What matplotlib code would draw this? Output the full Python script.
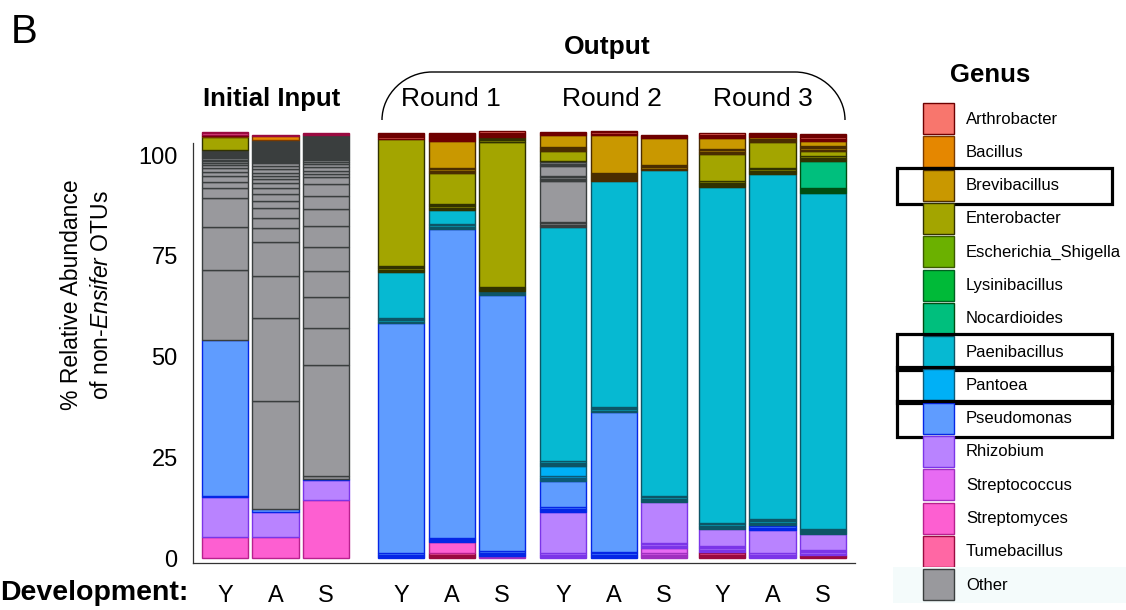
import sys
from typing import List, Tuple
import matplotlib
matplotlib.use("Agg")
import matplotlib.pyplot as plt
from matplotlib.patches import Rectangle, PathPatch
from matplotlib.path import Path

plt.rcParams['font.family'] = ['Liberation Sans', 'DejaVu Sans']
plt.rcParams['mathtext.fontset'] = 'custom'
plt.rcParams['mathtext.rm'] = 'Liberation Sans'
plt.rcParams['mathtext.it'] = 'Liberation Sans:italic'

GENERA = ["Arthrobacter", "Bacillus", "Brevibacillus", "Enterobacter",
          "Escherichia_Shigella", "Lysinibacillus", "Nocardioides", "Paenibacillus",
          "Pantoea", "Pseudomonas", "Rhizobium", "Streptococcus", "Streptomyces",
          "Tumebacillus", "Other"]
HIGHLIGHTED = ["Brevibacillus", "Paenibacillus", "Pantoea", "Pseudomonas"]

GROUPS = ["Initial Input", "Round 1", "Round 2", "Round 3"]
STAGES = ["Y", "A", "S"]

FILL = {
    "Arthrobacter": "#f8766d", "Bacillus": "#e58700", "Brevibacillus": "#c99800",
    "Enterobacter": "#a3a500", "Escherichia_Shigella": "#6bb100", "Lysinibacillus": "#00ba38",
    "Nocardioides": "#00bf7d", "Paenibacillus": "#06b9d2", "Pantoea": "#00b0f6",
    "Pseudomonas": "#5f9cff", "Rhizobium": "#b983ff", "Streptococcus": "#e76bf3",
    "Streptomyces": "#fd5fd1", "Tumebacillus": "#ff67a4", "Other": "#99999d",
}
EDGE = {
    "Arthrobacter": "#6e0000", "Bacillus": "#7a3a00", "Brevibacillus": "#4a2d00",
    "Enterobacter": "#313200", "Escherichia_Shigella": "#3a5a00", "Lysinibacillus": "#006020",
    "Nocardioides": "#004d12", "Paenibacillus": "#0d5566", "Pantoea": "#0c5a78",
    "Pseudomonas": "#0526e6", "Rhizobium": "#7b35e8", "Streptococcus": "#a030c0",
    "Streptomyces": "#b8208e", "Tumebacillus": "#9a0a40", "Other": "#3a3e3e",
}

# OTU abundances for each sample, stacked bottom to top: (genus, [otu, otu, ...])
INITIAL_Y = [
    ("Streptomyces", [5.2]),
    ("Rhizobium", [10.0]),
    ("Pseudomonas", [0.3, 38.6]),
    ("Other", [17.4, 10.7, 7.2, 2.5, 1.5, 1.5, 1.0, 1.0, 0.7, 0.5, 0.5,
               0.3, 0.3, 0.25, 0.25, 0.25, 0.25, 0.2, 0.2, 0.2, 0.2, 0.2]),
    ("Enterobacter", [3.2]),
    ("Bacillus", [0.3]),
    ("Arthrobacter", [0.4]),
    ("Tumebacillus", [0.3, 0.3]),
]
INITIAL_A = [
    ("Streptomyces", [5.2]),
    ("Rhizobium", [6.2]),
    ("Pseudomonas", [0.8]),
    ("Other", [26.9, 20.4, 10.4, 8.5, 3.5, 2.5, 2.5, 1.7, 1.7, 1.5, 1.2, 1.2, 0.7, 0.7, 1.0, 0.7, 0.7,
               0.3, 0.3, 0.3, 0.25, 0.25, 0.25, 0.25, 0.25, 0.25, 0.25, 0.25, 0.25, 0.25,
               0.25, 0.25, 0.25, 0.2, 0.2, 0.2, 0.2, 0.2, 0.2, 0.2, 0.2]),
    ("Bacillus", [1.0]),
    ("Tumebacillus", [0.3]),
]
INITIAL_S = [
    ("Streptomyces", [14.4]),
    ("Rhizobium", [5.0]),
    ("Pseudomonas", [0.2]),
    ("Other", [0.7, 27.6, 9.2, 7.7, 6.5, 6.0, 5.2, 4.2, 3.2, 3.0, 1.7, 0.7, 0.7, 1.0, 0.7, 0.7,
               0.3, 0.3, 0.3, 0.3, 0.25, 0.25, 0.25, 0.25, 0.25, 0.25, 0.25, 0.25, 0.25,
               0.25, 0.25, 0.25, 0.25, 0.25, 0.2, 0.2, 0.2, 0.2, 0.2, 0.2, 0.2, 0.2, 0.2]),
    ("Tumebacillus", [0.4, 0.3]),
]
ROUND1_Y = [
    ("Pseudomonas", [0.3, 0.3, 0.3, 0.3, 57.2]),
    ("Paenibacillus", [0.3, 0.3, 0.3, 0.3, 11.4]),
    ("Enterobacter", [0.3, 0.3, 0.3, 0.3, 0.3, 31.6]),
    ("Arthrobacter", [0.3, 0.3, 0.3, 0.3, 0.3]),
]
ROUND1_A = [
    ("Tumebacillus", [0.3, 0.3, 0.3, 0.3]),
    ("Streptomyces", [2.7]),
    ("Pseudomonas", [0.3, 0.3, 0.3, 0.3, 76.6]),
    ("Paenibacillus", [0.3, 0.3, 0.3, 0.3, 3.5]),
    ("Enterobacter", [0.3, 0.3, 0.3, 0.3, 0.3, 7.7]),
    ("Brevibacillus", [0.3, 0.3, 0.3, 0.3, 6.7]),
    ("Arthrobacter", [0.25, 0.25, 0.25, 0.25, 0.25, 0.25, 0.25, 0.25]),
]
ROUND1_S = [
    ("Streptococcus", [0.25, 0.25]),
    ("Pseudomonas", [0.3, 0.3, 0.3, 0.3, 63.7]),
    ("Paenibacillus", [0.25, 0.25, 0.25, 0.25]),
    ("Enterobacter", [0.25, 0.25, 0.25, 0.25, 36.0, 0.25, 0.25, 0.25, 0.25]),
    ("Arthrobacter", [0.3, 0.3, 0.3, 0.3, 0.3]),
]
ROUND2_Y = [
    ("Rhizobium", [0.3, 0.3, 0.3, 0.3, 10.2]),
    ("Pseudomonas", [0.3, 0.3, 0.3, 0.3, 6.5]),
    ("Pantoea", [0.3, 0.3, 0.3, 0.3, 2.5]),
    ("Paenibacillus", [0.3, 0.3, 0.3, 0.3, 58.2]),
    ("Other", [0.3, 0.3, 0.3, 0.3, 10.2, 0.3, 0.3, 0.3, 0.3, 2.5, 0.3, 0.3, 0.3, 0.3]),
    ("Enterobacter", [2.5]),
    ("Brevibacillus", [0.25, 0.25, 0.25, 0.25, 3.0]),
    ("Arthrobacter", [0.27, 0.27, 0.27]),
]
ROUND2_A = [
    ("Pseudomonas", [0.3, 0.3, 0.3, 0.3, 0.3, 34.8]),
    ("Paenibacillus", [0.3, 0.3, 0.3, 0.3, 56.2]),
    ("Brevibacillus", [0.25, 0.25, 0.25, 0.25, 0.25, 0.25, 0.25, 0.25, 9.4]),
    ("Arthrobacter", [0.27, 0.27, 0.27]),
]
ROUND2_S = [
    ("Streptococcus", [0.3, 0.3, 0.3, 0.3, 1.3]),
    ("Rhizobium", [0.3, 0.3, 0.3, 0.3, 10.2]),
    ("Paenibacillus", [0.3, 0.3, 0.3, 0.3, 0.3, 81.0]),
    ("Brevibacillus", [0.3, 0.3, 0.3, 0.3, 6.7]),
    ("Arthrobacter", [0.27, 0.27, 0.27]),
]
ROUND3_Y = [
    ("Tumebacillus", [0.3, 0.3, 0.3, 0.3, 0.3]),
    ("Rhizobium", [0.3, 0.3, 0.3, 0.3, 0.3, 4.2]),
    ("Paenibacillus", [0.3, 0.3, 0.3, 0.3, 0.3, 83.3]),
    ("Enterobacter", [0.3, 0.3, 0.3, 0.3, 0.3, 6.8]),
    ("Brevibacillus", [0.3, 0.3, 0.3, 0.3, 2.7]),
    ("Arthrobacter", [0.3, 0.3, 0.3, 0.3]),
]
ROUND3_A = [
    ("Rhizobium", [0.3, 0.3, 0.3, 0.3, 5.8]),
    ("Pseudomonas", [0.3, 0.3, 0.3, 0.3]),
    ("Paenibacillus", [0.3, 0.3, 0.3, 0.3, 0.3, 85.6]),
    ("Enterobacter", [0.3, 0.3, 0.3, 0.3, 0.3, 6.4]),
    ("Brevibacillus", [0.3, 0.3, 0.3, 0.3]),
    ("Arthrobacter", [0.25, 0.25, 0.25, 0.25]),
]
ROUND3_S = [
    ("Tumebacillus", [0.27, 0.27, 0.27]),
    ("Rhizobium", [0.3, 0.3, 0.3, 0.3, 4.0]),
    ("Paenibacillus", [0.26, 0.26, 0.26, 0.26, 0.26, 83.3]),
    ("Nocardioides", [0.26, 0.26, 0.26, 0.26, 0.26, 6.6]),
    ("Enterobacter", [0.3, 0.3, 0.3, 0.3, 1.4]),
    ("Brevibacillus", [0.3, 0.3, 0.3, 0.3, 1.2]),
    ("Arthrobacter", [0.3, 0.3, 0.3, 0.3, 0.3, 0.3]),
]

SAMPLES = [
    [INITIAL_Y, INITIAL_A, INITIAL_S],
    [ROUND1_Y, ROUND1_A, ROUND1_S],
    [ROUND2_Y, ROUND2_A, ROUND2_S],
    [ROUND3_Y, ROUND3_A, ROUND3_S],
]

# where each group of three bars starts on the x axis
GROUP_START = [0.0, 3.5, 6.72, 9.88]
BAR_WIDTH = 0.915

W, H = 1126, 610


def draw_stack(ax, x: float, segments: List[Tuple[str, List[float]]]):
    bottom = 0.0
    for genus, otus in segments:
        for value in otus:
            ax.bar(x, value, bottom=bottom, width=BAR_WIDTH, color=FILL[genus],
                   edgecolor=EDGE[genus], linewidth=1.0)
            bottom += value


def draw_bars(fig):
    ax = fig.add_axes([193 / W, (H - 563) / H, 662 / W, 436 / H])
    positions = []
    for start, group in zip(GROUP_START, SAMPLES):
        for i, sample in enumerate(group):
            draw_stack(ax, start + i, sample)
            positions.append(start + i)

    ax.set_xlim(-0.64, 12.52)
    ax.set_ylim(-1.2, 107)
    ax.set_yticks([0, 25, 50, 75, 100])
    ax.set_xticks(positions)
    ax.set_xticklabels(STAGES * len(GROUPS))
    ax.tick_params(axis='both', length=0, labelsize=17)
    ax.tick_params(axis='y', pad=11)
    ax.tick_params(axis='x', pad=16)
    for side in ("top", "right"):
        ax.spines[side].set_visible(False)
    for side in ("left", "bottom"):
        ax.spines[side].set_color("#333333")
        ax.spines[side].set_linewidth(0.9)
    ax.spines["left"].set_bounds(-1.2, 103)
    return ax


def draw_annotations(fig):
    ov = fig.add_axes([0, 0, 1, 1], facecolor="none")
    ov.set_xlim(0, W)
    ov.set_ylim(H, 0)
    ov.axis("off")

    ov.text(11, 32, "B", fontsize=29, va="center", ha="left")
    ov.text(0, 593, "Development:", fontsize=20.5, fontweight="bold", va="center", ha="left")
    ov.text(71, 295, "% Relative Abundance", fontsize=16.5, rotation=90, va="center", ha="center")
    ov.text(101, 295, r"of non-$\it{Ensifer}$ OTUs", fontsize=16.5, rotation=90,
            va="center", ha="center")

    ov.text(272, 99, GROUPS[0], fontsize=18.5, fontweight="bold", va="center", ha="center")
    for cx, name in zip([451, 612, 763], GROUPS[1:]):
        ov.text(cx, 99, name, fontsize=19, va="center", ha="center")
    ov.text(607, 47, "Output", fontsize=19, fontweight="bold", va="center", ha="center")

    # bracket over the three output rounds
    verts = [(382, 120), (382, 94), (405, 72), (432, 72), (795, 72),
             (822, 72), (845, 94), (845, 120)]
    codes = [Path.MOVETO, Path.CURVE4, Path.CURVE4, Path.CURVE4, Path.LINETO,
             Path.CURVE4, Path.CURVE4, Path.CURVE4]
    ov.add_patch(PathPatch(Path(verts, codes), facecolor="none", edgecolor="black", lw=1.0))

    # legend, one row per genus
    ov.text(990, 75, "Genus", fontsize=18.5, fontweight="bold", va="center", ha="center")
    row_h = 33.3
    top0 = 103
    for i, genus in enumerate(GENERA):
        top = top0 + row_h * i
        if genus == "Other":
            ov.add_patch(Rectangle((893, top - 2), W - 893, 36, facecolor="#f4fbfb",
                                   edgecolor="none"))
        ov.add_patch(Rectangle((923, top), 31, 31, facecolor=FILL[genus],
                               edgecolor=EDGE[genus], lw=1.0))
        ov.text(966, top + 16, genus, fontsize=12, va="center", ha="left")
        if genus in HIGHLIGHTED:
            ov.add_patch(Rectangle((897, top - 2), 215, 36, facecolor="none",
                                   edgecolor="black", lw=2.3))


def main():
    fig = plt.figure(figsize=(W / 100, H / 100), dpi=100)
    draw_bars(fig)
    draw_annotations(fig)
    fig.savefig("out.png", dpi=100)


if __name__ == '__main__':
    sys.exit(main())
